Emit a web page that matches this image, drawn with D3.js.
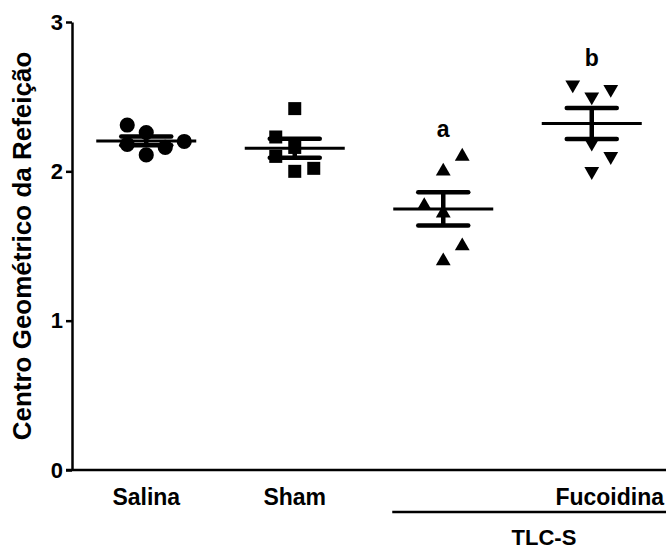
<!DOCTYPE html>
<html>
<head>
<meta charset="utf-8">
<script src="https://cdn.jsdelivr.net/npm/d3@7"></script>
<style>
  body { margin: 0; background: #fff; }
  svg { display: block; font-family: "Liberation Sans", Arial, sans-serif; font-weight: bold; }
</style>
</head>
<body>
<svg id="chart"></svg>
<script>
// dados (na ordem de entrada)
const groups = ["Salina", "Sham", "TLC-S", "TLC-S + Fucoidina"];
const groupLabels = ["Salina", "Sham", "", "Fucoidina"];
const salina = [2.11, 2.16, 2.18, 2.20, 2.26, 2.31];
const sham = [2.42, 2.16, 2.00, 2.02, 2.23, 2.10];
const tlcs = [1.40, 1.50, 1.72, 1.77, 2.00, 2.10];
const tlcsFucoidina = [2.00, 2.10, 2.19, 2.50, 2.58, 2.55];
const letters = ["", "", "a", "b"];
const yTicks = [0, 1, 2, 3];
const yTitle = "Centro Geométrico da Refeição";
const bracketLabel = "TLC-S";

const series = [salina, sham, tlcs, tlcsFucoidina];
const symbols = [d3.symbolCircle, d3.symbolSquare, d3.symbolTriangle, d3.symbolTriangle];

const width = 667;
const height = 551;
const plotLeft = 72, plotRight = 666, plotTop = 22, plotBottom = 470;

const svg = d3.select("#chart")
  .attr("width", width)
  .attr("height", height);

const x = d3.scaleBand().domain(groups).range([plotLeft, plotRight]);
const y = d3.scaleLinear().domain([0, 3]).range([plotBottom, plotTop]);

// eixo Y
const yAxis = svg.append("g")
  .attr("transform", `translate(${plotLeft},0)`)
  .call(d3.axisLeft(y).tickValues(yTicks).tickFormat(d3.format("d"))
    .tickSize(6).tickSizeOuter(0).tickPadding(3));
yAxis.select(".domain").attr("stroke-width", 2.5);
yAxis.selectAll(".tick line").attr("stroke-width", 2.5);
yAxis.selectAll(".tick text")
  .attr("font-size", 22).attr("font-weight", "bold").attr("fill", "#000");

// eixo X
const xAxis = svg.append("g")
  .attr("transform", `translate(0,${plotBottom})`)
  .call(d3.axisBottom(x).tickSize(0).tickSizeOuter(0).tickPadding(19)
    .tickFormat((d, i) => groupLabels[i]));
xAxis.select(".domain").attr("stroke-width", 2.5).attr("d", `M${plotLeft - 6},0H${plotRight}`);
xAxis.selectAll(".tick text")
  .attr("font-size", 23).attr("font-weight", "bold").attr("fill", "#000");

// o último rótulo fica alinhado à direita da figura
xAxis.selectAll(".tick").filter((d, i) => i === groups.length - 1)
  .select("text")
  .attr("text-anchor", "end")
  .attr("x", plotRight - 2 - (x(groups[3]) + x.bandwidth() / 2));

// título do eixo Y
svg.append("text")
  .attr("transform", "translate(31,246) rotate(-90)")
  .attr("text-anchor", "middle")
  .attr("font-size", 26)
  .text(yTitle);

// distribui os pontos lateralmente quando se sobrepõem
function spread(values, step, gap) {
  const placed = [];
  let side = 1;
  return values.map(v => {
    const py = y(v);
    for (let k = 0; k < 10; k++) {
      const cands = k === 0 ? [0] : [side * k, -side * k];
      const free = cands.find(s => !placed.some(p => p.s === s && Math.abs(p.py - py) < gap));
      if (free !== undefined) {
        placed.push({ s: free, py: py });
        if (free !== 0) side = -Math.sign(free);
        return free * step;
      }
    }
    return 0;
  });
}

series.forEach((vals, gi) => {
  const cx = x(groups[gi]) + x.bandwidth() / 2;
  const offs = spread(vals, 19, 16);
  const size = gi === 0 ? 180 : gi === 1 ? 169 : 95;
  const g = svg.append("g");

  g.selectAll("path")
    .data(vals)
    .join("path")
    .attr("d", d3.symbol().type(symbols[gi]).size(size))
    .attr("transform", (d, i) => `translate(${cx + offs[i]},${y(d)})` + (gi === 3 ? " rotate(180)" : ""))
    .attr("fill", "#000");

  const m = d3.mean(vals);
  const sem = d3.deviation(vals) / Math.sqrt(vals.length);

  // média
  g.append("line")
    .attr("x1", cx - 50).attr("x2", cx + 50)
    .attr("y1", y(m)).attr("y2", y(m))
    .attr("stroke", "#000").attr("stroke-width", 3);

  // erro padrão
  g.append("line")
    .attr("x1", cx).attr("x2", cx)
    .attr("y1", y(m + sem)).attr("y2", y(m - sem))
    .attr("stroke", "#000").attr("stroke-width", 4.5);
  [m + sem, m - sem].forEach(v => {
    g.append("line")
      .attr("x1", cx - 25).attr("x2", cx + 25)
      .attr("y1", y(v)).attr("y2", y(v))
      .attr("stroke", "#000").attr("stroke-width", 4.5)
      .attr("stroke-linecap", "round");
  });

  if (letters[gi]) {
    svg.append("text")
      .attr("x", cx)
      .attr("y", y(d3.max(vals)) - 19)
      .attr("text-anchor", "middle")
      .attr("font-size", 23)
      .text(letters[gi]);
  }
});

// chave TLC-S
const bx1 = x(groups[2]) + x.bandwidth() / 2 - 51;
svg.append("line")
  .attr("x1", bx1).attr("x2", plotRight)
  .attr("y1", 512).attr("y2", 512)
  .attr("stroke", "#000").attr("stroke-width", 2.5);
svg.append("text")
  .attr("x", 544)
  .attr("y", 545)
  .attr("text-anchor", "middle")
  .attr("font-size", 22)
  .text(bracketLabel);
</script>
</body>
</html>
